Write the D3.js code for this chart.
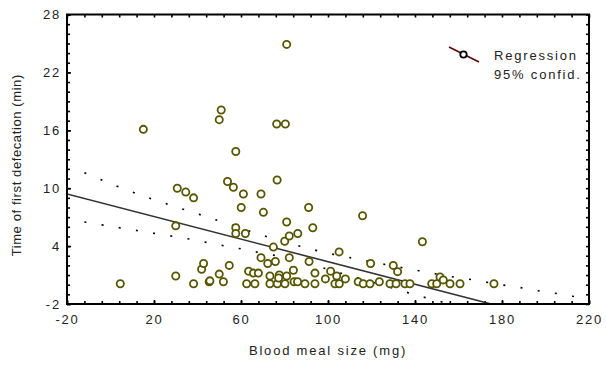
<!DOCTYPE html>
<html>
<head>
<meta charset="utf-8">
<script src="https://cdn.jsdelivr.net/npm/d3@7/dist/d3.min.js"></script>
<style>
  body { margin: 0; background: #fff; }
  text { font-family: "Liberation Sans", Arial, sans-serif; font-size: 13px; letter-spacing: 1.8px; fill: #222; }
</style>
</head>
<body>
<svg id="chart" width="606" height="365"></svg>
<script>
// blood meal size (mg) and time of first defecation (min)
const mealSize = [
  15.1, 4.5, 30.7, 34.6, 38.2, 30.0, 30.0, 38.2, 41.9, 42.8,
  45.4, 50.0, 51.9, 54.6, 50.9, 50.0, 57.6, 53.8, 56.5, 61.1,
  60.1, 57.6, 57.6, 62.0, 63.5, 62.6, 65.7, 68.0, 66.4, 69.2,
  70.3, 69.2, 72.3, 75.8, 73.3, 73.3, 74.9, 76.4, 80.4, 76.6,
  81.0, 81.0, 80.1, 82.2, 86.1, 82.2, 77.6, 81.0, 76.7, 80.2,
  84.1, 84.4, 91.1, 93.0, 91.3, 94.0, 89.4, 94.0, 86.0, 98.8,
  101.2, 104.0, 105.1, 108.0, 103.2, 105.2, 113.9, 116.2, 115.9, 119.6,
  119.3, 123.6, 128.5, 130.0, 132.0, 131.3, 135.4, 137.7, 143.4, 147.7,
  150.0, 151.5, 153.0, 156.1, 160.7, 176.3, 45.7, 77.3
];
const defecTime = [
  16.1, 0.1, 10.0, 9.6, 9.0, 6.1, 0.9, 0.1, 1.6, 2.2,
  0.3, 1.1, 0.3, 2.0, 18.1, 17.1, 13.8, 10.7, 10.1, 9.4,
  8.0, 5.9, 5.3, 5.3, 1.4, 0.1, 1.2, 1.2, 0.1, 9.4,
  7.5, 2.8, 2.2, 2.4, 0.9, 0.1, 3.9, 16.65, 16.65, 10.85,
  24.9, 6.5, 4.5, 5.05, 5.3, 2.8, 1.0, 0.9, 0.1, 0.1,
  1.5, 0.3, 8.0, 5.9, 2.4, 1.2, 0.1, 0.1, 0.3, 0.6,
  1.4, 0.9, 3.4, 0.6, 0.1, 0.1, 0.3, 0.1, 7.15, 2.2,
  0.1, 0.3, 0.1, 2.0, 1.35, 0.1, 0.1, 0.1, 4.45, 0.1,
  0.1, 0.8, 0.5, 0.1, 0.1, 0.1, 0.4, 0.7
];

// regression line and 95% confidence limits
const regX = [-20, 175];
const regY = [9.4, -2.0];
const upperX = [-12, 3, 35, 42, 50, 66, 73, 81, 89, 97, 114, 122, 130, 138, 146, 154, 162, 170, 178, 186, 194, 203, 211, 219];
const upperY = [11.6, 10.2, 7.7, 7.2, 6.6, 5.4, 4.9, 4.35, 3.88, 3.42, 2.63, 2.28, 1.94, 1.6, 1.28, 0.93, 0.66, 0.38, 0.04, -0.2, -0.55, -0.83, -1.14, -1.45];
const lowerX = [-12, -4, 29, 37, 45, 53, 61, 69, 77, 85, 93, 101, 109, 117, 125, 141, 156];
const lowerY = [6.5, 6.2, 5.0, 4.7, 4.35, 4.0, 3.67, 3.3, 2.97, 2.49, 2.04, 1.52, 1.0, 0.49, -0.03, -1.1, -2.0];

const xMajor = [-20, 20, 60, 100, 140, 180, 220];
const yMajor = [-2, 4, 10, 16, 22, 28];
const legendLabels = ["Regression", "95% confid."];

const margin = { top: 14.5, right: 17, bottom: 61, left: 67 };
const width = 606 - margin.left - margin.right;
const height = 365 - margin.top - margin.bottom;

const svg = d3.select("#chart");
const g = svg.append("g").attr("transform", `translate(${margin.left},${margin.top})`);

const x = d3.scaleLinear().domain([-20, 220]).range([0, width]);
const y = d3.scaleLinear().domain([-2, 28]).range([height, 0]);

g.append("clipPath").attr("id", "plotClip")
  .append("rect").attr("width", width).attr("height", height);

const xMinor = d3.range(-20, 221, 8);
const yMinor = d3.range(-2, 29, 1);

// inward ticks on all four sides
function tickAxis(axis, vals, size) {
  return axis.tickValues(vals).tickSize(size).tickFormat("");
}
g.append("g").attr("transform", `translate(0,${height})`)
  .call(tickAxis(d3.axisBottom(x), xMinor, -3));
g.append("g").call(tickAxis(d3.axisTop(x), xMinor, -3));
g.append("g").call(tickAxis(d3.axisLeft(y), yMinor, -3));
g.append("g").attr("transform", `translate(${width},0)`)
  .call(tickAxis(d3.axisRight(y), yMinor, -3));

const plain = d => String(d);  // hyphen minus, like the original
g.append("g").attr("transform", `translate(0,${height})`)
  .call(d3.axisBottom(x).tickValues(xMajor).tickSize(-4).tickPadding(11).tickFormat(plain));
g.append("g")
  .call(d3.axisLeft(y).tickValues(yMajor).tickSize(-4).tickPadding(6).tickFormat(plain));

g.selectAll(".domain").remove();
g.selectAll(".tick line").attr("stroke", "#000").attr("stroke-width", 1.6);
g.selectAll(".tick text").attr("fill", "#222").style("font-size", "13px");

// confidence limits (dotted) and regression line
const line = d3.line().x(d => x(d[0])).y(d => y(d[1]));
const plot = g.append("g").attr("clip-path", "url(#plotClip)");

plot.append("path")
  .datum(d3.zip(upperX, upperY))
  .attr("d", line.curve(d3.curveMonotoneX))
  .attr("fill", "none").attr("stroke", "#000")
  .attr("stroke-width", 1.6).attr("stroke-dasharray", "2,15.4");
plot.append("path")
  .datum(d3.zip(lowerX, lowerY))
  .attr("d", line.curve(d3.curveMonotoneX))
  .attr("fill", "none").attr("stroke", "#000")
  .attr("stroke-width", 1.6).attr("stroke-dasharray", "2,15.4");
plot.append("path")
  .datum(d3.zip(regX, regY))
  .attr("d", line.curve(d3.curveLinear))
  .attr("fill", "none").attr("stroke", "#333").attr("stroke-width", 1.6);

// points
g.append("g").selectAll("circle")
  .data(d3.zip(mealSize, defecTime))
  .join("circle")
  .attr("cx", d => x(d[0]))
  .attr("cy", d => y(d[1]))
  .attr("r", 3.6)
  .attr("fill", "#fff")
  .attr("stroke", "#565600")
  .attr("stroke-width", 1.8);

// frame
g.append("rect").attr("width", width).attr("height", height)
  .attr("fill", "none").attr("stroke", "#000").attr("stroke-width", 2);

// axis titles
svg.append("text")
  .attr("x", margin.left + width / 2).attr("y", 355)
  .attr("text-anchor", "middle")
  .text("Blood meal size (mg)");
svg.append("text")
  .attr("transform", `translate(21,${margin.top + height / 2 + 6}) rotate(-90)`)
  .attr("text-anchor", "middle")
  .style("letter-spacing", "0.6px")
  .text("Time of first defecation (min)");

// legend
const lg = svg.append("g");
lg.append("line")
  .attr("x1", 449).attr("y1", 47).attr("x2", 479).attr("y2", 62)
  .attr("stroke", "#5a0a0a").attr("stroke-width", 1.6);
lg.append("circle").attr("cx", 463.5).attr("cy", 54.5).attr("r", 3.2)
  .attr("fill", "#fff").attr("stroke", "#000").attr("stroke-width", 1.8);
lg.selectAll("text.lab")
  .data(legendLabels)
  .join("text").attr("class", "lab")
  .attr("x", 494).attr("y", (d, i) => 60 + i * 19)
  .text(d => d);
</script>
</body>
</html>
